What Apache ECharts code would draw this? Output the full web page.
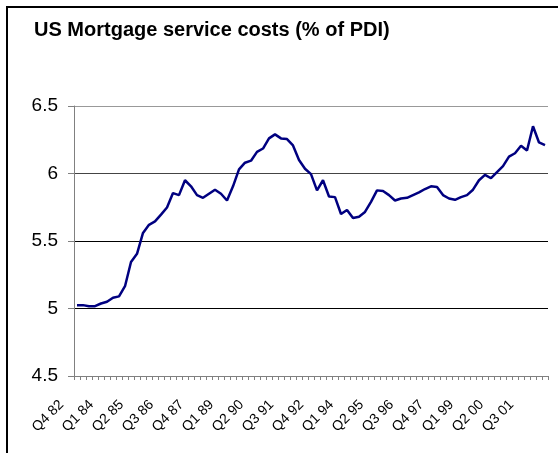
<!DOCTYPE html>
<html>
<head>
<meta charset="utf-8">
<script src="https://cdn.jsdelivr.net/npm/echarts@6/dist/echarts.min.js"></script>
<style>
html,body{margin:0;padding:0;background:#fff;}
#chart{width:558px;height:453px;}
</style>
</head>
<body>
<div id="chart"></div>
<script>
// Quarterly categories Q4 82 .. Q2 02
const quarters = (function(){
  const out = [];
  let q = 4, y = 82;
  for (let i = 0; i < 79; i++) {
    out.push('Q' + q + ' ' + String(y % 100).padStart(2, '0'));
    q++; if (q > 4) { q = 1; y++; }
  }
  return out;
})();

const mortgageCosts = [
  5.025, 5.025, 5.016, 5.017, 5.037, 5.05, 5.08, 5.09, 5.165, 5.345,
  5.405, 5.56, 5.62, 5.645, 5.695, 5.748, 5.855, 5.84, 5.95, 5.905,
  5.84, 5.82, 5.85, 5.88, 5.85, 5.80, 5.905, 6.03, 6.08, 6.095,
  6.16, 6.185, 6.26, 6.29, 6.26, 6.255, 6.208, 6.10, 6.035, 5.995,
  5.875, 5.95, 5.83, 5.825, 5.70, 5.73, 5.67, 5.68, 5.715, 5.79,
  5.875, 5.87, 5.84, 5.80, 5.815, 5.82, 5.84, 5.86, 5.885, 5.905,
  5.90, 5.84, 5.815, 5.805, 5.825, 5.84, 5.88, 5.95, 5.99, 5.965,
  6.01, 6.055, 6.125, 6.15, 6.205, 6.17, 6.35, 6.23, 6.21
];

const yTicks = [4.5, 5, 5.5, 6, 6.5];

const chart = echarts.init(document.getElementById('chart'), null, {renderer: 'canvas'});
chart.setOption({
  animation: false,
  backgroundColor: '#fff',
  textStyle: {fontFamily: '"Liberation Sans", Arial, sans-serif'},
  title: {
    text: 'US Mortgage service costs (% of PDI)',
    left: 34, top: 20, padding: 0,
    textStyle: {fontFamily: '"Liberation Sans", Arial, sans-serif', fontSize: 20, fontWeight: 'bold', color: '#000'}
  },
  graphic: [{
    type: 'rect', silent: true,
    shape: {x: 7, y: 7, width: 700, height: 700},
    style: {fill: 'none', stroke: '#000', lineWidth: 2}
  }],
  grid: {left: 74, right: 10, top: 106, bottom: 77, containLabel: false},
  xAxis: {
    type: 'category',
    data: quarters,
    boundaryGap: true,
    axisLine: {show: true, lineStyle: {color: '#808080', width: 1}},
    axisTick: {show: true, interval: 0, length: 4, lineStyle: {color: '#808080'}},
    axisLabel: {
      interval: 4, rotate: 45, margin: 11,
      padding: [0, 22, 0, 0],
      fontSize: 14, color: '#000',
      fontFamily: '"Liberation Sans", Arial, sans-serif'
    },
    splitLine: {show: false}
  },
  yAxis: {
    type: 'value',
    min: yTicks[0], max: yTicks[yTicks.length - 1], interval: 0.5,
    axisLine: {show: true, lineStyle: {color: '#808080', width: 1}},
    axisTick: {show: true, length: 6, lineStyle: {color: '#808080'}},
    axisLabel: {
      fontSize: 19, color: '#000', margin: 16,
      fontFamily: '"Liberation Sans", Arial, sans-serif',
      formatter: function (v) { return String(v); }
    },
    splitLine: {show: true, lineStyle: {color: ['#000', '#000', '#000', '#444', '#999'], width: 1}}
  },
  series: [{
    type: 'line',
    data: mortgageCosts,
    symbol: 'none',
    smooth: false,
    lineStyle: {color: '#000080', width: 2.5},
    itemStyle: {color: '#000080'}
  }]
});
</script>
</body>
</html>
